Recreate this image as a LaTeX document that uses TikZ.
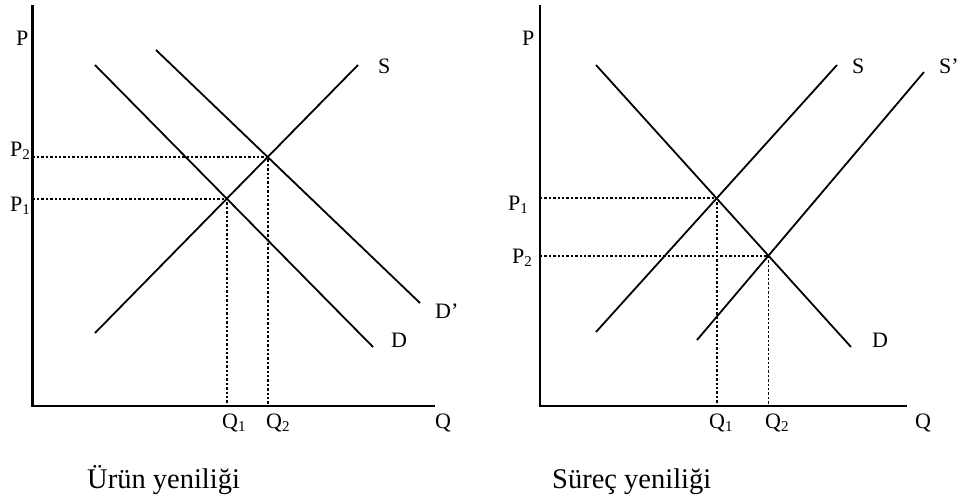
\documentclass[tikz,border=0pt]{standalone}
\usepackage{fontspec}
\setmainfont{Liberation Serif}
\newcommand\subs[1]{\raisebox{-0.3ex}{\fontsize{15}{15}\selectfont #1}}
\begin{document}
\begin{tikzpicture}[x=1pt,y=-1pt,
  axis/.style={line width=2.6pt},
  curve/.style={line width=1.8pt},
  guide/.style={line width=1.8pt, dash pattern=on 2.4pt off 2pt},
  lab/.style={inner sep=0pt, anchor=base west, font=\fontsize{22}{26}\selectfont},
  captext/.style={inner sep=0pt, anchor=base west, font=\fontsize{28.5}{32}\selectfont}]
\useasboundingbox (0,0) rectangle (957,500);
% ---------------- left panel ----------------
\coordinate (Ltop) at (32.5,5);
\coordinate (Lo) at (32.5,406);
\coordinate (Lend) at (435,406);
\draw[axis] (Ltop) -- (Lo) -- (Lend);
\coordinate (LDa) at (95,65);   \coordinate (LDb) at (373,347);
\coordinate (LDpa) at (156,50); \coordinate (LDpb) at (420,303);
\coordinate (LSa) at (95,333);  \coordinate (LSb) at (358,65);
\draw[curve] (LDa) -- (LDb);
\draw[curve] (LDpa) -- (LDpb);
\draw[curve] (LSa) -- (LSb);
\coordinate (LE1) at (intersection of LDa--LDb and LSa--LSb);
\coordinate (LE2) at (intersection of LDpa--LDpb and LSa--LSb);
\draw[guide] (Lo |- LE1) -- (LE1) -- (LE1 |- Lo);
\draw[guide] (Lo |- LE2) -- (LE2) -- (LE2 |- Lo);
\node[lab] (LP)  at (16,46)   {P};
\node[lab] (LP2) at (10,156)  {P\subs{2}};
\node[lab] (LP1) at (10,211)  {P\subs{1}};
\node[lab] (LS)  at (378,74)  {S};
\node[lab] (LDpl) at (435,318) {D’};
\node[lab] (LDl) at (391,347) {D};
\node[lab] (LQ1) at (222,428) {Q\subs{1}};
\node[lab] (LQ2) at (266,428) {Q\subs{2}};
\node[lab] (LQ)  at (435,428) {Q};
\node[captext] (Lcap) at (87,488) {Ürün yeniliği};
% ---------------- right panel ----------------
\coordinate (Rtop) at (540,5);
\coordinate (Ro) at (540,406);
\coordinate (Rend) at (907,406);
\draw[axis] (Rtop) -- (Ro) -- (Rend);
\coordinate (RDa) at (596,65);   \coordinate (RDb) at (851,347);
\coordinate (RSa) at (596,332);  \coordinate (RSb) at (837,65);
\coordinate (RSpa) at (697,340); \coordinate (RSpb) at (924,72);
\draw[curve] (RDa) -- (RDb);
\draw[curve] (RSa) -- (RSb);
\draw[curve] (RSpa) -- (RSpb);
\coordinate (RE1) at (intersection of RDa--RDb and RSa--RSb);
\coordinate (RE2) at (intersection of RDa--RDb and RSpa--RSpb);
\draw[guide] (Ro |- RE1) -- (RE1) -- (RE1 |- Ro);
\draw[guide] (Ro |- RE2) -- (RE2) -- (RE2 |- Ro);
\node[lab] (RP)  at (522,46)  {P};
\node[lab] (RP1) at (508,210) {P\subs{1}};
\node[lab] (RP2) at (512,263) {P\subs{2}};
\node[lab] (RS)  at (852,74)  {S};
\node[lab] (RSpl) at (939,74) {S’};
\node[lab] (RDl) at (872,347) {D};
\node[lab] (RQ1) at (709,428) {Q\subs{1}};
\node[lab] (RQ2) at (765,428) {Q\subs{2}};
\node[lab] (RQ)  at (915,428) {Q};
\node[captext] (Rcap) at (552,488) {Süreç yeniliği};
\end{tikzpicture}
\end{document}
